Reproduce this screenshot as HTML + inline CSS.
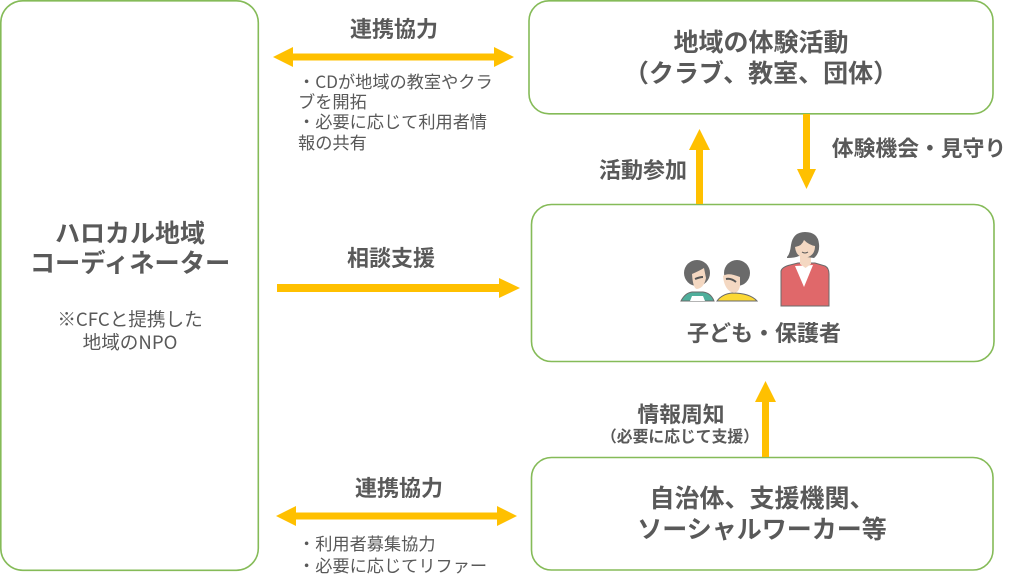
<!DOCTYPE html>
<html lang="ja"><head><meta charset="utf-8">
<style>
html,body{margin:0;padding:0;background:#fff}
svg{display:block}
text{font-family:"Noto Sans CJK JP","Liberation Sans",sans-serif;fill:#595959}
.b{font-weight:700}
.m{text-anchor:middle}
</style></head>
<body>
<svg width="1022" height="587" viewBox="0 0 1022 587" xmlns="http://www.w3.org/2000/svg">
<defs><filter id="s" x="-5%" y="-5%" width="110%" height="110%"><feGaussianBlur stdDeviation="0.35"/></filter></defs>
<g fill="#fff" stroke="#85bb58" stroke-width="1.6">
<rect x="0.8" y="0.8" width="257.5" height="569.5" rx="22"/>
<rect x="529" y="0.8" width="464" height="113" rx="20"/>
<rect x="531.500" y="204.500" width="462.500" height="157" rx="20"/>
<rect x="531.500" y="457.500" width="461.500" height="112.500" rx="20"/>
</g>
<g fill="#ffc000">
<path d="M273 57L293 47V53.500H494V47L514 57L494 67V60.500H293V67Z"/>
<path d="M276 516L296 506V512.500H497V506L517 516L497 526V519.500H296V526Z"/>
<path d="M277 284H499V278L520 288L499 298V292H277Z"/>
<path d="M696 204V150H689L699.500 129L710 150H703V204Z"/>
<path d="M803 114V169H797L806.500 189L816 169H810V114Z"/>
<path d="M762 457V402H755L765.500 381L776 402H769V457Z"/>
</g>
<text class="b m" x="130" y="242" font-size="25">ハロカル地域</text>
<text class="b m" x="130" y="272" font-size="25.300">コーディネーター</text>
<text class="b m" x="761" y="51" font-size="25">地域の体験活動</text>
<text class="b m" x="761" y="82" font-size="25">（クラブ、教室、団体）</text>
<text class="b m" x="394" y="37" font-size="22">連携協力</text>
<text class="b m" x="391" y="266" font-size="22">相談支援</text>
<text class="b m" x="399" y="496" font-size="22">連携協力</text>
<text class="b m" x="643" y="178" font-size="22">活動参加</text>
<text class="b m" x="919" y="156" font-size="21.800">体験機会・見守り</text>
<text class="b m" x="681" y="422" font-size="21.800">情報周知</text>
<text class="b m" x="680" y="442" font-size="15.800">（必要に応じて支援）</text>
<text class="b m" x="764" y="341" font-size="22">子ども・保護者</text>
<text class="b m" x="762" y="507" font-size="25">自治体、支援機関、</text>
<text class="b m" x="762" y="538" font-size="25">ソーシャルワーカー等</text>
<g font-size="17.200">
<text class="m" x="130" y="326" font-size="18.600">※CFCと提携した</text>
<text class="m" x="130" y="349" font-size="18.600">地域のNPO</text>
<text x="298" y="88">・CDが地域の教室やクラ</text>
<text x="298" y="108">ブを開拓</text>
<text x="298" y="128">・必要に応じて利用者情</text>
<text x="298" y="149">報の共有</text>
<text x="298" y="550">・利用者募集協力</text>
<text x="298" y="572">・必要に応じてリファー</text>
</g>
<g filter="url(#s)">
<!-- child 1 -->
<g stroke="#6b6b6b" stroke-width="1">
<path d="M681 301Q685 293 692 292H703Q711 293 714 301Z" fill="#4fae9b"/>
<path d="M690 301L692 296H703L705 301Z" fill="#fff" stroke="none"/>
<circle cx="697" cy="273" r="13" fill="#6a6a6a" stroke="none"/>
<path d="M692 274Q699 271 704 268L706 278Q704 288 697 289Q693 289 692 274Z" fill="#f4d8c2" stroke="none"/>
<path d="M695 279Q700 277 703 277" fill="none" stroke="#555" stroke-width="2"/>
</g>
<!-- child 2 -->
<g stroke="#6b6b6b" stroke-width="1">
<path d="M717 301Q722 294 732 293Q750 293 757 301Z" fill="#fbd835"/>
<circle cx="737" cy="273" r="13" fill="#6a6a6a" stroke="none"/>
<path d="M723 276Q728 272 740 277L740 286Q738 295 731 292Q724 288 723 276Z" fill="#f4d8c2" stroke="none"/>
<path d="M726 279Q731 278 736 282" fill="none" stroke="#555" stroke-width="2"/>
</g>
<!-- adult -->
<g stroke="#6b6b6b" stroke-width="1">
<path d="M781 306V271Q782 267 790 265L798 263H815L825 266Q829 268 829 274V306Z" fill="#e0686a"/>
<path d="M795 266L804 287L813 265Z" fill="#fff" stroke="none"/>
<path d="M800 264V254H811V264L805.500 268Z" fill="#f4d8c2" stroke="none"/>
<path d="M787 257Q790 254 791 245Q793 232 805 232Q818 232 819 244Q820 253 814 258L799 256Q795 258 787 258Z" fill="#6a6a6a" stroke="none"/>
<path d="M795 247Q802 246 804 240Q809 245 815 246Q815 256 805 258Q796 257 795 247Z" fill="#f4d8c2" stroke="none"/>
<path d="M802 252Q805 254 808 252" fill="none" stroke="#555" stroke-width="1"/>
</g>
</g>
</svg>
</body></html>
